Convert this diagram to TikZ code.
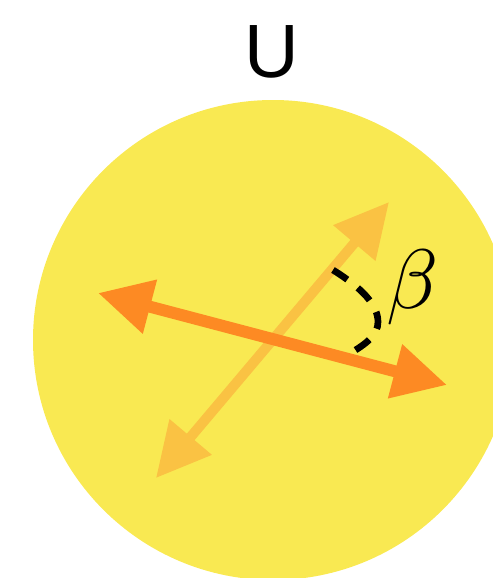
\documentclass[tikz,border=0pt]{standalone}
\usepackage{fontspec}
\newfontfamily\labelfont{Liberation Sans}
\usetikzlibrary{arrows.meta}
\definecolor{sunyellow}{HTML}{F9E952}
\definecolor{deeporange}{HTML}{FD8A23}
\definecolor{paleorange}{HTML}{FAC243}

\begin{document}
\begin{tikzpicture}[x=0.02cm,y=-0.02cm,
    biarrow/.style={{Triangle[length=30.6pt,width=30pt]}-{Triangle[length=30.6pt,width=30pt]}}]
  % frame
  \useasboundingbox (0,0) rectangle (493,578);
  \clip (0,0) rectangle (493,578);
  % disc
  \fill[sunyellow] (273,340) circle (240);
  \node[font=\labelfont\fontsize{43}{43}\selectfont] (ulabel) at (272,52) {U};
  % the two axes
  \coordinate (pa) at (389,202);
  \coordinate (pb) at (156,478);
  \coordinate (oa) at (98,293);
  \coordinate (ob) at (447,385);
  \draw[paleorange,line width=5.7pt,biarrow] (pa) -- (pb);
  \draw[deeporange,line width=6.8pt,biarrow] (oa) -- (ob);
  % angle
  \coordinate (ba) at (333,270);
  \coordinate (bb) at (349,354);
  \draw[line width=3.8pt,dash pattern=on 9.8pt off 7.6pt]
    (ba) .. controls (362,288) and (378,305) .. (378,322)
    .. controls (378,335) and (366,344) .. (bb);
  \node[scale=4.8] (blabel) at (413,287) {$\beta$};
\end{tikzpicture}
\end{document}
